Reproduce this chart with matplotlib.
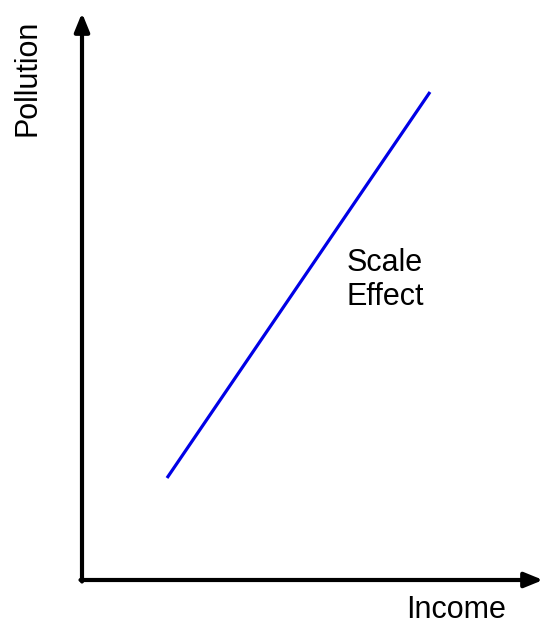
import matplotlib.pyplot as plt

# data (in figure pixel-like units, y up)
scale_x = [167, 430]
scale_y = [149, 535]
origin = (82, 47)
x_end = 543
y_end = 614

plt.rcParams['font.family'] = ['Liberation Sans', 'DejaVu Sans']

fig = plt.figure(figsize=(5.43, 6.27), dpi=100)
ax = fig.add_axes([0, 0, 1, 1])
ax.set_xlim(0, 543)
ax.set_ylim(0, 627)
ax.axis("off")

# axes with arrows
ax.annotate("", xy=(origin[0], y_end), xytext=(origin[0], origin[1] - 1.5),
            arrowprops=dict(arrowstyle="-|>,head_length=1.1,head_width=0.45",
                            lw=3.0, color="black", shrinkA=0, shrinkB=0))
ax.annotate("", xy=(x_end, origin[1]), xytext=(origin[0] - 1.5, origin[1]),
            arrowprops=dict(arrowstyle="-|>,head_length=1.1,head_width=0.45",
                            lw=3.0, color="black", shrinkA=0, shrinkB=0))

# scale effect line
ax.plot(scale_x, scale_y, color="#0000e6", lw=2.3, solid_capstyle="butt")

ax.text(385, 347, "Scale\nEffect", ha="center", va="center", fontsize=22,
        linespacing=1.2)
ax.text(456, 17, "Income", ha="center", va="center", fontsize=22)
ax.text(28, 549, "Pollution", ha="center", va="center", fontsize=22,
        rotation=90)

fig.savefig("out.png", dpi=100)
plt.close(fig)
